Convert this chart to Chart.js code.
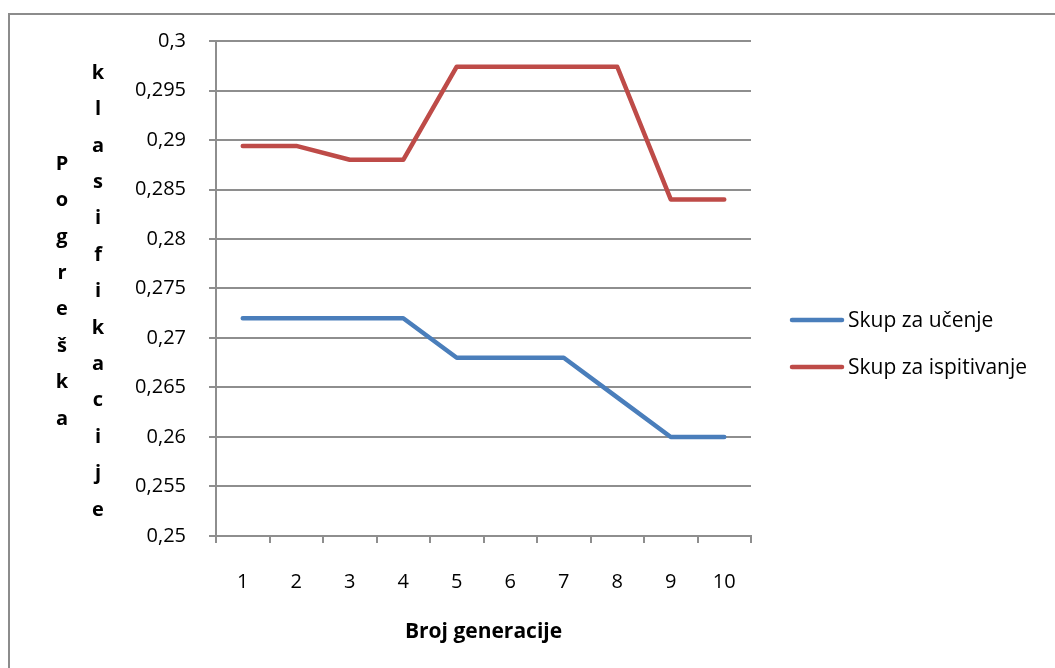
<!DOCTYPE html>
<html>
<head>
<meta charset="utf-8">
<script src="https://cdn.jsdelivr.net/npm/chart.js@4/dist/chart.umd.min.js"></script>
<style>
  html, body { margin: 0; padding: 0; background: #fff; }
  #wrap { width: 1055px; height: 668px; position: relative; }
</style>
</head>
<body>
<div id="wrap"><canvas id="c" width="1055" height="668"></canvas></div>
<script>
// Generations on the x axis
const categories = ['1', '2', '3', '4', '5', '6', '7', '8', '9', '10'];
// Classification error per generation
const trainError = [0.272, 0.272, 0.272, 0.272, 0.268, 0.268, 0.268, 0.264, 0.260, 0.260];
const testError  = [0.2894, 0.2894, 0.2880, 0.2880, 0.2974, 0.2974, 0.2974, 0.2974, 0.2840, 0.2840];
const seriesNames = ['Skup za učenje', 'Skup za ispitivanje'];
const seriesColors = ['#4a7ebb', '#be4b48'];
const yMin = 0.25, yMax = 0.30, yStep = 0.005;
const xTitle = 'Broj generacije';
const yTitleWords = ['Pogreška', 'klasifikacije'];

const FONT = '"Open Sans", "Liberation Sans", sans-serif';
const GRID = '#8e8e8e';

function fmtTick(v) {
  return (+v.toFixed(3)).toString().replace('.', ',');
}

// Frame around the whole chart, stacked y-axis title and the legend
const decorations = {
  id: 'decorations',
  beforeDraw(chart) {
    const ctx = chart.ctx;
    ctx.save();
    ctx.fillStyle = '#fff';
    ctx.fillRect(0, 0, chart.width, chart.height);
    ctx.strokeStyle = '#8c8c8c';
    ctx.lineWidth = 2;
    ctx.strokeRect(9, 14, 1200, 800);
    ctx.restore();
  },
  afterDraw(chart) {
    const ctx = chart.ctx;
    const area = chart.chartArea;
    ctx.save();
    // vertical, letter-by-letter axis title
    ctx.fillStyle = '#000';
    ctx.font = 'bold 20px ' + FONT;
    ctx.textAlign = 'center';
    ctx.textBaseline = 'middle';
    const step = 36.4;
    const cols = [62, 98];
    const midY = (area.top + area.bottom) / 2 + 3;
    yTitleWords.forEach((word, i) => {
      const letters = Array.from(word);
      const start = midY - (letters.length - 1) * step / 2;
      letters.forEach((ch, j) => ctx.fillText(ch, cols[i], start + j * step));
    });
    // legend
    const legendY = [320, 367];
    ctx.font = '21px ' + FONT;
    ctx.textAlign = 'left';
    chart.data.datasets.forEach((ds, i) => {
      ctx.strokeStyle = ds.borderColor;
      ctx.lineWidth = 4.5;
      ctx.lineCap = 'round';
      ctx.beginPath();
      ctx.moveTo(792, legendY[i]);
      ctx.lineTo(842, legendY[i]);
      ctx.stroke();
      ctx.fillStyle = '#000';
      ctx.fillText(ds.label, 848, legendY[i] + 1);
    });
    ctx.restore();
  }
};

new Chart(document.getElementById('c'), {
  type: 'line',
  data: {
    labels: categories,
    datasets: [
      { label: seriesNames[0], data: trainError, borderColor: seriesColors[0], backgroundColor: seriesColors[0] },
      { label: seriesNames[1], data: testError, borderColor: seriesColors[1], backgroundColor: seriesColors[1] }
    ]
  },
  options: {
    responsive: false,
    animation: false,
    devicePixelRatio: 1,
    layout: { padding: { left: 0, right: 304, top: 41, bottom: 0 } },
    elements: {
      line: { borderWidth: 4.5, tension: 0, borderCapStyle: 'round', borderJoinStyle: 'round' },
      point: { radius: 0, hoverRadius: 0 }
    },
    plugins: {
      legend: { display: false },
      tooltip: { enabled: false }
    },
    scales: {
      x: {
        offset: true,
        grid: { offset: true, drawOnChartArea: false, drawTicks: true, tickLength: 7, color: GRID, lineWidth: 2 },
        border: { display: true, color: GRID, width: 2 },
        ticks: { color: '#000', font: { family: FONT, size: 20 }, padding: 27, maxRotation: 0 },
        title: { display: true, text: xTitle, color: '#000', font: { family: FONT, size: 21, weight: 'bold' }, padding: { top: 0, bottom: 23 } },
        afterFit(scale) { scale.height = 132; }
      },
      y: {
        min: yMin,
        max: yMax,
        grid: { color: GRID, lineWidth: 2, drawTicks: true, tickLength: 7 },
        border: { display: true, color: GRID, width: 2 },
        ticks: {
          stepSize: yStep,
          color: '#000',
          font: { family: FONT, size: 20 },
          padding: 23,
          callback: (v) => fmtTick(v)
        },
        afterFit(scale) { scale.width = 216; }
      }
    }
  },
  plugins: [decorations]
});
</script>
</body>
</html>
